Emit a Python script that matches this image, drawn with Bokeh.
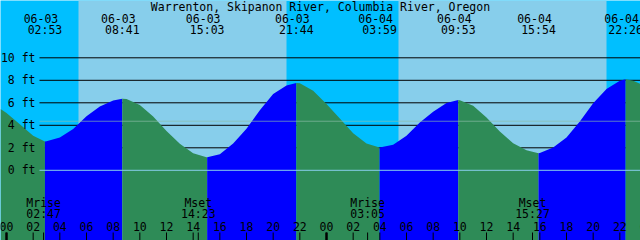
from bokeh.plotting import figure
from bokeh.models import Range1d
from bokeh.core.properties import value
from bokeh.embed import file_html
from bokeh.resources import INLINE

# ---------------- data ----------------
title = "Warrenton, Skipanon River, Columbia River, Oregon"

# tide height (ft); hours counted from 06-03 00:00
tide_hours = [-0.45, 0, 1, 2, 2.883, 3, 4, 5, 6, 7, 8, 8.683, 9, 10, 11, 12, 13, 14, 15, 15.05,
              16, 17, 18, 19, 20, 21, 21.733, 22, 23, 24, 25, 26, 27, 27.983, 29, 30, 31, 32, 33,
              33.883, 34, 35, 36, 37, 38, 39, 39.9, 40, 41, 42, 43, 44, 45, 46, 46.433, 47, 47.55]
tide_ft = [5.45, 5.09, 4.10, 3.06, 2.56, 2.58, 2.91, 3.66, 4.80, 5.68, 6.21, 6.37, 6.34, 5.80,
           4.79, 3.50, 2.35, 1.52, 1.17, 1.16, 1.43, 2.38, 3.70, 5.33, 6.79, 7.53, 7.77, 7.74,
           7.08, 5.89, 4.61, 3.30, 2.38, 2.02, 2.26, 3.06, 4.25, 5.20, 5.98, 6.25, 6.22, 5.74,
           4.70, 3.45, 2.41, 1.79, 1.52, 1.53, 2.02, 2.91, 4.34, 5.95, 7.23, 7.97, 8.09, 7.97, 7.67]

event_hours = [2.883, 8.683, 15.05, 21.733, 27.983, 33.883, 39.9, 46.433]
event_dates = ["06-03", "06-03", "06-03", "06-03", "06-04", "06-04", "06-04", "06-04"]
event_times = ["02:53", "08:41", "15:03", "21:44", "03:59", "09:53", "15:54", "22:26"]

sunrise_hours = [5.4, 29.4]
sunset_hours = [21.0, 45.0]

moon_hours = [2.783, 14.383, 27.083, 39.45]
moon_names = ["Mrise", "Mset", "Mrise", "Mset"]
moon_times = ["02:47", "14:23", "03:05", "15:27"]

hour_ticks = [0, 2, 4, 6, 8, 10, 12, 14, 16, 18, 20, 22, 24, 26, 28, 30, 32, 34, 36, 38, 40, 42, 44, 46, 48]
hour_labels = ["00", "02", "04", "06", "08", "10", "12", "14", "16", "18", "20", "22",
               "00", "02", "04", "06", "08", "10", "12", "14", "16", "18", "20", "22", "00"]
midnight_hours = [0, 24, 48]

level_ticks = [0, 2, 4, 6, 8, 10]
level_labels = ["0 ft", "2 ft", "4 ft", "6 ft", "8 ft", "10 ft"]
grid_levels = [2, 4, 6, 8, 10]
msl_ft = 4.36

# ---------------- styling ----------------
DAY = "#87CEEB"
NIGHT = "#00BFFF"
RISE = "#0000FF"
FALL = "#2E8B57"
FONT = value("DejaVu Sans Mono")
FS = value("11.5px")

p = figure(width=640, height=240, output_backend="svg", toolbar_location=None,
           x_range=Range1d(-0.45, 47.55), y_range=Range1d(-6.24, 15.093),
           x_axis_location=None, y_axis_location=None, min_border=0,
           background_fill_color=NIGHT, border_fill_color=NIGHT)
p.outline_line_color = None
p.xgrid.visible = False
p.ygrid.visible = False
p.extra_x_ranges = {"px": Range1d(0, 640)}
p.extra_y_ranges = {"py": Range1d(240, 0)}

# day background
p.quad(left=sunrise_hours, right=sunset_hours, bottom=0, top=240, y_range_name="py",
       fill_color=DAY, line_color=None)

# grid lines (behind the tide)
p.segment(x0=39, x1=640, y0=grid_levels, y1=grid_levels, x_range_name="px",
          line_color="black", line_width=1)

# tide fill, split at highs/lows
bounds = [tide_hours[0]] + event_hours + [tide_hours[-1]]
for a, b in zip(bounds[:-1], bounds[1:]):
    idx = [i for i, h in enumerate(tide_hours) if a - 1e-9 <= h <= b + 1e-9]
    xs = [tide_hours[i] for i in idx]
    ys = [tide_ft[i] for i in idx]
    color = RISE if ys[-1] > ys[0] else FALL
    p.varea(x=xs, y1=-6.5, y2=ys, fill_color=color)

# datum and mean level lines
p.segment(x0=39, x1=640, y0=0, y1=0, x_range_name="px", line_color=DAY, line_width=1)
p.segment(x0=39, x1=640, y0=msl_ft, y1=msl_ft, x_range_name="px",
          line_color="#8cbeaa", line_alpha=0.65, line_width=1)

# level labels
p.text(x=35, y=level_ticks, text=level_labels, x_range_name="px",
       text_align="right", text_baseline="middle", text_font=FONT, text_font_size=FS,
       text_color="black")

# title
p.text(x=[320], y=[6], text=[title], x_range_name="px", y_range_name="py",
       text_align="center", text_baseline="middle", text_font=FONT, text_font_size=FS,
       text_color="black")

# high/low labels
p.text(x=event_hours, y=17.5, text=event_dates, y_range_name="py", x_offset=-4,
       text_align="center", text_baseline="middle", text_font=FONT, text_font_size=FS,
       text_color="black")
p.text(x=event_hours, y=29.7, text=event_times, y_range_name="py",
       text_align="center", text_baseline="middle", text_font=FONT, text_font_size=FS,
       text_color="black")

# moon labels
p.text(x=moon_hours, y=202, text=moon_names, y_range_name="py",
       text_align="center", text_baseline="middle", text_font=FONT, text_font_size=FS,
       text_color="black")
p.text(x=moon_hours, y=213.2, text=moon_times, y_range_name="py",
       text_align="center", text_baseline="middle", text_font=FONT, text_font_size=FS,
       text_color="black")

# hour labels and ticks
p.text(x=hour_ticks, y=225.6, text=hour_labels, y_range_name="py",
       text_align="center", text_baseline="middle", text_font=FONT, text_font_size=FS,
       text_color="black")
p.segment(x0=hour_ticks, x1=hour_ticks, y0=232, y1=240, y_range_name="py",
          line_color="black", line_width=1)
p.segment(x0=moon_hours, x1=moon_hours, y0=232, y1=240, y_range_name="py",
          line_color="black", line_width=1)
p.segment(x0=midnight_hours, x1=midnight_hours, y0=232, y1=240, y_range_name="py",
          line_color="black", line_width=2.5)

open("out.html", "w").write(file_html(p, INLINE))
